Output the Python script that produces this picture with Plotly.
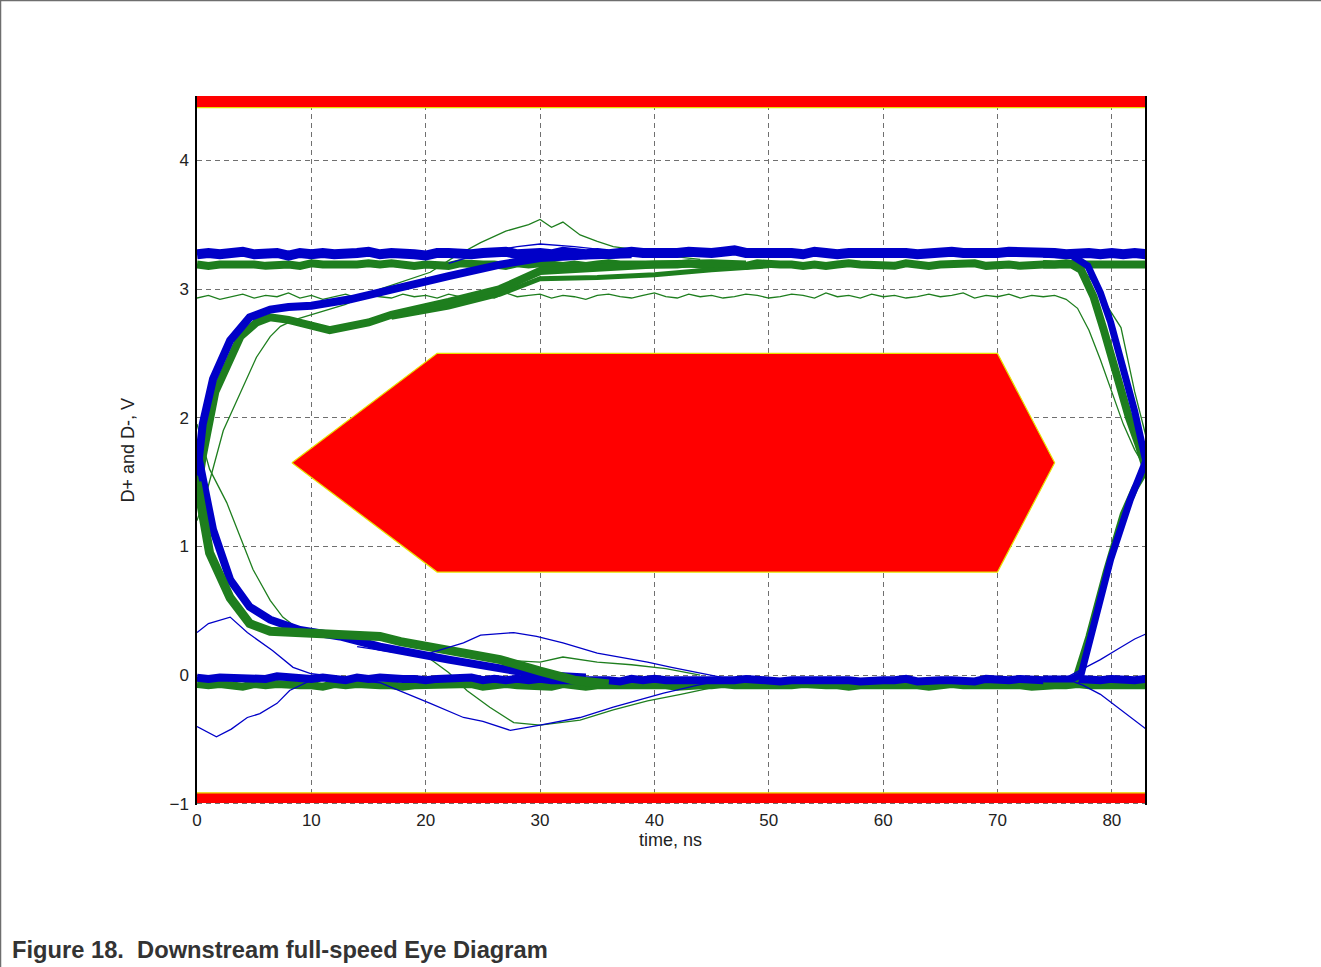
import plotly.graph_objects as go

BLUE = "#0000C8"
GREEN = "#1E7E1E"
RED = "#FF0000"
YELLOW = "#E8E000"

# ---------------- data ----------------
# flat levels sampled every 1 ns, t = 0 .. 83
blue_high = [3.27, 3.28, 3.27, 3.28, 3.29, 3.27, 3.27, 3.28, 3.26, 3.28,
             3.27, 3.28, 3.27, 3.27, 3.28, 3.29, 3.27, 3.28, 3.28, 3.27,
             3.26, 3.28, 3.28, 3.27, 3.27, 3.28, 3.28, 3.29, 3.27, 3.28,
             3.28, 3.27, 3.29, 3.28, 3.27, 3.28, 3.27, 3.28, 3.29, 3.28,
             3.28, 3.27, 3.28, 3.29, 3.28, 3.28, 3.29, 3.30, 3.28, 3.28,
             3.29, 3.28, 3.28, 3.27, 3.29, 3.28, 3.27, 3.28, 3.28, 3.29,
             3.28, 3.28, 3.28, 3.27, 3.28, 3.28, 3.29, 3.28, 3.28, 3.27,
             3.28, 3.29, 3.29, 3.28, 3.28, 3.28, 3.27, 3.28, 3.28, 3.27,
             3.28, 3.27, 3.28, 3.27]
green_high = [3.19, 3.18, 3.19, 3.19, 3.20, 3.19, 3.18, 3.19, 3.19, 3.18,
              3.20, 3.19, 3.19, 3.18, 3.19, 3.20, 3.19, 3.20, 3.19, 3.18,
              3.19, 3.19, 3.18, 3.20, 3.19, 3.19, 3.19, 3.18, 3.20, 3.19,
              3.20, 3.19, 3.18, 3.19, 3.18, 3.19, 3.20, 3.19, 3.19, 3.19,
              3.18, 3.19, 3.19, 3.20, 3.19, 3.18, 3.19, 3.19, 3.18, 3.20,
              3.19, 3.19, 3.19, 3.18, 3.19, 3.18, 3.19, 3.20, 3.19, 3.19,
              3.19, 3.18, 3.20, 3.19, 3.18, 3.19, 3.19, 3.19, 3.20, 3.18,
              3.19, 3.19, 3.18, 3.19, 3.19, 3.19, 3.20, 3.19, 3.19, 3.19,
              3.18, 3.19, 3.19, 3.19]
blue_low = [-0.02, -0.03, -0.02, -0.02, -0.03, -0.02, -0.03, -0.01, -0.02, -0.03,
            -0.03, -0.02, -0.03, -0.04, -0.02, -0.03, -0.02, -0.03, -0.03, -0.03,
            -0.04, -0.03, -0.03, -0.03, -0.02, -0.04, -0.03, -0.04, -0.03, -0.04,
            -0.03, -0.04, -0.04, -0.03, -0.04, -0.03, -0.04, -0.05, -0.03, -0.04,
            -0.03, -0.04, -0.04, -0.04, -0.05, -0.04, -0.04, -0.04, -0.03, -0.04,
            -0.04, -0.05, -0.04, -0.04, -0.04, -0.03, -0.04, -0.04, -0.05, -0.04,
            -0.04, -0.04, -0.03, -0.05, -0.04, -0.04, -0.04, -0.04, -0.05, -0.03,
            -0.04, -0.04, -0.03, -0.04, -0.04, -0.04, -0.05, -0.03, -0.04, -0.04,
            -0.03, -0.04, -0.04, -0.03]
green_low = [-0.07, -0.08, -0.07, -0.08, -0.09, -0.07, -0.08, -0.07, -0.08, -0.08,
             -0.08, -0.09, -0.07, -0.08, -0.07, -0.08, -0.08, -0.08, -0.09, -0.08,
             -0.08, -0.07, -0.08, -0.08, -0.07, -0.09, -0.08, -0.07, -0.08, -0.08,
             -0.08, -0.09, -0.07, -0.08, -0.09, -0.08, -0.08, -0.08, -0.07, -0.08,
             -0.08, -0.08, -0.09, -0.08, -0.08, -0.08, -0.07, -0.08, -0.08, -0.08,
             -0.09, -0.08, -0.08, -0.07, -0.08, -0.08, -0.08, -0.09, -0.08, -0.08,
             -0.07, -0.08, -0.08, -0.08, -0.09, -0.08, -0.07, -0.08, -0.08, -0.08,
             -0.08, -0.07, -0.08, -0.09, -0.08, -0.08, -0.08, -0.07, -0.08, -0.08,
             -0.08, -0.09, -0.08, -0.08]
green_thin_high = [2.93, 2.95, 2.92, 2.94, 2.96, 2.93, 2.95, 2.94, 2.97, 2.93,
                   2.95, 2.92, 2.94, 2.96, 2.93, 2.95, 2.94, 2.93, 2.96, 2.94,
                   2.95, 2.93, 2.96, 2.94, 2.92, 2.95, 2.93, 2.97, 2.94, 2.95,
                   2.96, 2.93, 2.95, 2.94, 2.92, 2.95, 2.96, 2.94, 2.93, 2.95,
                   2.97, 2.94, 2.93, 2.96, 2.94, 2.95, 2.93, 2.94, 2.96, 2.95,
                   2.93, 2.94, 2.96, 2.95, 2.93, 2.97, 2.94, 2.95, 2.93, 2.96,
                   2.94, 2.95, 2.93, 2.94, 2.96, 2.94, 2.95, 2.97, 2.93, 2.95,
                   2.94, 2.96, 2.93, 2.95, 2.94, 2.95, 2.92, 2.85, 2.68, 2.45,
                   2.20, 1.95, 1.75, 1.60]

# transitions at the left crossing
blue_rise_t = [0, 0.5, 1.4, 2.9, 4.6, 6.4, 8, 10, 13.4, 17, 22, 26.5, 30, 34, 38]
blue_rise_v = [1.55, 1.95, 2.30, 2.60, 2.78, 2.84, 2.86, 2.87, 2.92, 3.00, 3.10, 3.19, 3.24, 3.26, 3.27]
blue_fall_t = [0, 0.3, 1.4, 2.9, 4.6, 6.4, 9, 12.5, 16, 22, 26.5, 30, 34]
blue_fall_v = [1.75, 1.60, 1.13, 0.74, 0.53, 0.43, 0.35, 0.30, 0.22, 0.12, 0.05, 0.00, -0.02]
green_rise_t = [0, 0.5, 1.6, 3.8, 5.2, 6.4, 8, 10, 11.6, 15, 17, 22, 26.5, 30, 35, 40, 45, 48]
green_rise_v = [1.40, 1.70, 2.20, 2.63, 2.74, 2.78, 2.76, 2.71, 2.68, 2.74, 2.80, 2.90, 3.00, 3.14, 3.17, 3.19, 3.20, 3.19]
green_rise2_t = [17, 22, 26.5, 30, 35, 40, 45, 50]
green_rise2_v = [2.78, 2.86, 2.96, 3.08, 3.09, 3.11, 3.15, 3.18]
green_fall_t = [0, 1.1, 2.9, 4.6, 6.4, 9, 11.6, 14, 16, 17.8, 22, 26.5, 30, 33, 36]
green_fall_v = [1.50, 0.95, 0.60, 0.40, 0.34, 0.33, 0.33, 0.32, 0.30, 0.26, 0.20, 0.12, 0.03, -0.04, -0.07]

# transitions at the right crossing
blue_fall_r_t = [74, 76.5, 77.9, 79, 79.9, 81, 82, 83]
blue_fall_r_v = [3.27, 3.26, 3.18, 2.97, 2.74, 2.40, 2.05, 1.65]
blue_rise_r_t = [74, 76.5, 77.3, 78.1, 79.9, 81.6, 83]
blue_rise_r_v = [-0.03, -0.03, 0.00, 0.27, 0.90, 1.36, 1.67]
green_fall_r_t = [74, 76.5, 77.3, 78.4, 79.3, 80.5, 81.5, 82.3, 83]
green_fall_r_v = [3.19, 3.19, 3.15, 2.94, 2.68, 2.30, 2.00, 1.80, 1.60]
green_rise_r_t = [74, 76, 76.8, 78, 79.5, 81, 82, 83]
green_rise_r_v = [-0.08, -0.08, -0.04, 0.30, 0.80, 1.25, 1.45, 1.60]

# single outlier sweeps
green_slow_t = [0, 0.9, 2.3, 3.8, 5.2, 6.4, 7.3, 8.5, 10, 13, 16, 18, 20.4, 22.5, 24.8, 27, 29, 30, 31, 32, 33.5, 35, 36.4, 38.8, 41, 44]
green_slow_v = [1.20, 1.44, 1.90, 2.20, 2.47, 2.63, 2.71, 2.76, 2.80, 2.88, 3.00, 3.06, 3.13, 3.25, 3.36, 3.45, 3.50, 3.54, 3.48, 3.52, 3.42, 3.37, 3.33, 3.30, 3.26, 3.23]
green_fast_t = [0, 0.6, 1.1, 2.6, 3.8, 4.9, 6.4, 7.5, 8.7, 10, 12]
green_fast_v = [1.95, 1.75, 1.60, 1.34, 1.07, 0.82, 0.58, 0.45, 0.37, 0.34, 0.33]
green_outer_r_t = [74, 77, 78.4, 79.5, 80.8, 82, 83]
green_outer_r_v = [3.22, 3.20, 3.05, 2.88, 2.70, 2.20, 1.85]
blue_bump_high_t = [22, 25, 28, 30, 33, 36, 40, 44]
blue_bump_high_v = [3.20, 3.28, 3.33, 3.35, 3.33, 3.30, 3.29, 3.28]
blue_left_up_t = [0, 1, 2.9, 4.4, 6.6, 8.4, 10, 12]
blue_left_up_v = [0.33, 0.40, 0.45, 0.33, 0.19, 0.06, 0.01, -0.01]
blue_left_down_t = [0, 1.7, 3, 4.4, 5.5, 7, 8.1, 9, 10, 12]
blue_left_down_v = [-0.40, -0.48, -0.42, -0.33, -0.30, -0.22, -0.12, -0.08, -0.04, -0.02]
blue_mid_up_t = [14, 17, 20, 23.3, 24.8, 26, 27.7, 29.7, 32, 35, 37, 39.4, 41.5, 43.7, 46]
blue_mid_up_v = [0.22, 0.18, 0.16, 0.25, 0.31, 0.32, 0.33, 0.30, 0.25, 0.17, 0.14, 0.10, 0.06, 0.02, -0.02]
blue_mid_down_t = [12, 16, 20.4, 23.3, 25, 27.4, 30, 33.5, 36.4, 38.5, 40.8, 43.7, 46]
blue_mid_down_v = [-0.02, -0.06, -0.22, -0.33, -0.36, -0.43, -0.39, -0.33, -0.25, -0.20, -0.14, -0.08, -0.04]
green_mid_down_t = [20, 22, 23.6, 25.6, 27.7, 30, 33.5, 36.4, 39.4, 42.3, 46]
green_mid_down_v = [0.15, 0.02, -0.12, -0.25, -0.37, -0.39, -0.35, -0.27, -0.20, -0.15, -0.08]
green_mid_up_t = [26, 30, 32, 35, 38, 41, 44]
green_mid_up_v = [0.12, 0.10, 0.14, 0.10, 0.08, 0.05, 0.00]
blue_right_up_t = [76, 77.5, 79, 80.5, 82, 83]
blue_right_up_v = [-0.02, 0.05, 0.12, 0.20, 0.28, 0.32]
blue_right_down_t = [76, 77.5, 79, 80.5, 82, 83]
blue_right_down_v = [-0.03, -0.08, -0.15, -0.25, -0.35, -0.42]

# eye-mask template and limit bars
mask_t = [8.3, 21, 70, 75, 70, 21, 8.3]
mask_v = [1.65, 2.5, 2.5, 1.65, 0.8, 0.8, 1.65]
top_bar = [4.41, 4.50]
bottom_bar = [-0.995, -0.915]

x_ticks = [0, 10, 20, 30, 40, 50, 60, 70, 80]
y_ticks = [-1, 0, 1, 2, 3, 4]
X_MAX = 82.9

# ---------------- figure ----------------
fig = go.Figure()


def add(t, v, color, width):
    fig.add_trace(go.Scatter(x=t, y=v, mode="lines",
                             line=dict(color=color, width=width),
                             hoverinfo="skip", showlegend=False))


t_flat = list(range(84))

# thin outliers behind
add(green_slow_t, green_slow_v, GREEN, 1.3)
add(t_flat[:len(green_thin_high)], green_thin_high, GREEN, 1.3)
add(green_outer_r_t, green_outer_r_v, GREEN, 1.3)
add(green_fast_t, green_fast_v, GREEN, 1.3)
add(green_mid_down_t, green_mid_down_v, GREEN, 1.3)
add(green_mid_up_t, green_mid_up_v, GREEN, 1.3)

# bands
add(t_flat[:len(green_high)], green_high, GREEN, 8)
add(t_flat[:len(green_low)], green_low, GREEN, 8)
add(t_flat[:len(blue_high)], blue_high, BLUE, 10)
add(t_flat[:len(blue_low)], blue_low, BLUE, 8)
add(green_rise2_t, green_rise2_v, GREEN, 5)
add(green_rise_t, green_rise_v, GREEN, 8)
add(blue_rise_t, blue_rise_v, BLUE, 8)
add(blue_fall_t, blue_fall_v, BLUE, 8)
add(green_fall_t, green_fall_v, GREEN, 9)
add(green_fall_r_t, green_fall_r_v, GREEN, 8)
add(green_rise_r_t, green_rise_r_v, GREEN, 7)
add(blue_fall_r_t, blue_fall_r_v, BLUE, 7)
add(blue_rise_r_t, blue_rise_r_v, BLUE, 7)

# thin blue outliers
add(blue_bump_high_t, blue_bump_high_v, BLUE, 1.3)
add(blue_left_up_t, blue_left_up_v, BLUE, 1.3)
add(blue_left_down_t, blue_left_down_v, BLUE, 1.3)
add(blue_mid_up_t, blue_mid_up_v, BLUE, 1.3)
add(blue_mid_down_t, blue_mid_down_v, BLUE, 1.3)
add(blue_right_up_t, blue_right_up_v, BLUE, 1.3)
add(blue_right_down_t, blue_right_down_v, BLUE, 1.3)

# mask polygon
fig.add_trace(go.Scatter(x=mask_t, y=mask_v, mode="lines", fill="toself",
                         fillcolor=RED, line=dict(color=YELLOW, width=1.2),
                         hoverinfo="skip", showlegend=False))
# limit bars
for lo, hi, edge in [(top_bar[0], top_bar[1], top_bar[0]),
                     (bottom_bar[0], bottom_bar[1], bottom_bar[1])]:
    fig.add_trace(go.Scatter(x=[0, X_MAX, X_MAX, 0, 0], y=[lo, lo, hi, hi, lo],
                             mode="lines", fill="toself", fillcolor=RED,
                             line=dict(color=RED, width=0),
                             hoverinfo="skip", showlegend=False))
    fig.add_trace(go.Scatter(x=[0, X_MAX], y=[edge, edge], mode="lines",
                             line=dict(color=YELLOW, width=1.2),
                             hoverinfo="skip", showlegend=False))

FONT = "Liberation Sans, Arial, sans-serif"
W, H = 1321, 967
L, R, T, B = 197, 176, 96, 162
PW, PH = W - L - R, H - T - B


def px(x):
    return (x - L) / PW


def py(y):
    return (H - B - y) / PH


fig.update_layout(
    width=W, height=H,
    margin=dict(l=L, r=R, t=T, b=B, pad=0),
    paper_bgcolor="white", plot_bgcolor="white",
    showlegend=False,
    xaxis=dict(range=[0, X_MAX], tickvals=x_ticks, ticks="", showline=False,
               zeroline=False, showgrid=True, gridcolor="#707070", gridwidth=1,
               griddash="5px,4px", tickfont=dict(family=FONT, size=17, color="#222"),
               ticklabelstandoff=3),
    yaxis=dict(range=[-1.01, 4.5], tickvals=y_ticks, ticks="", showline=True,
               linecolor="#000", linewidth=1.5, mirror=True, zeroline=False,
               showgrid=True, gridcolor="#707070", gridwidth=1, griddash="5px,4px",
               tickfont=dict(family=FONT, size=17, color="#222"),
               ticklabelstandoff=3),
    annotations=[
        dict(text="D+ and D-, V", xref="paper", yref="paper", x=px(127), y=0.5,
             textangle=-90, showarrow=False, xanchor="center", yanchor="middle",
             font=dict(family=FONT, size=18, color="#222")),
        dict(text="time, ns", xref="paper", yref="paper", x=px(670), y=py(840),
             showarrow=False, xanchor="center", yanchor="middle",
             font=dict(family=FONT, size=18, color="#222")),
        dict(text="<b>Figure 18.\u00a0\u00a0Downstream full-speed Eye Diagram</b>",
             xref="paper", yref="paper", x=px(10), y=py(950), showarrow=False,
             xanchor="left", yanchor="middle",
             font=dict(family=FONT, size=23.7, color="#333333")),
    ],
    shapes=[
        dict(type="line", xref="paper", yref="paper", x0=px(0), x1=px(W),
             y0=py(0.5), y1=py(0.5), line=dict(color="#6e6e6e", width=1.5)),
        dict(type="line", xref="paper", yref="paper", x0=px(0.5), x1=px(0.5),
             y0=py(0), y1=py(H), line=dict(color="#6e6e6e", width=1.5)),
    ],
)

fig.write_html("out.html",
               config={"displayModeBar": False},
               post_script="document.body.style.margin='0px';"
                           "document.body.style.overflow='hidden';")
